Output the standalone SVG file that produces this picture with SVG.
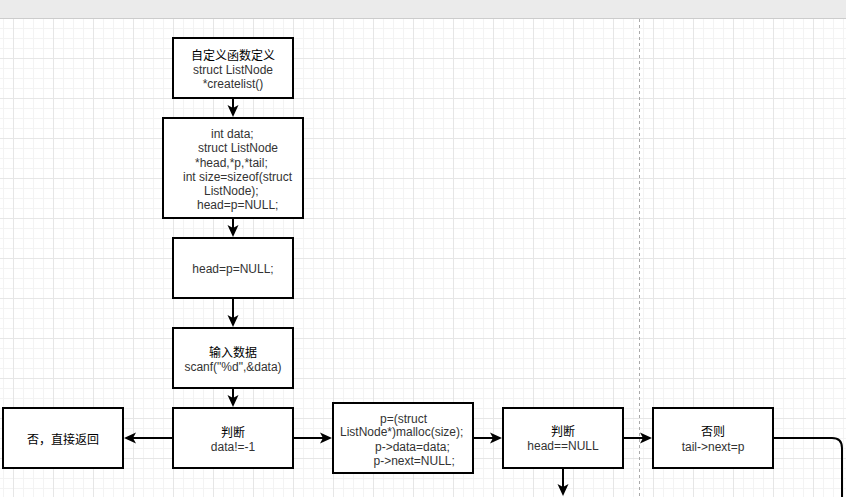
<svg xmlns="http://www.w3.org/2000/svg" width="846" height="497" viewBox="0 0 846 497">
<defs>
<pattern id="grid" patternUnits="userSpaceOnUse" x="13" y="18" width="40" height="40">
<rect width="40" height="40" fill="#ffffff"/>
<path d="M10.5 0V40M20.5 0V40M30.5 0V40M0 10.5H40M0 20.5H40M0 30.5H40" stroke="#f3f3f3" stroke-width="1"/>
<path d="M0.5 0V40M0 0.5H40" stroke="#e6e6e6" stroke-width="1"/>
</pattern>
<marker id="arr" markerUnits="userSpaceOnUse" viewBox="0 0 12 12" refX="3" refY="6" markerWidth="12" markerHeight="12" orient="auto">
<path d="M0,0.5 L12,6 L0,11.5 L3,6 Z" fill="#000"/>
</marker>
</defs>
<style>
.box{fill:#fff;stroke:#000;stroke-width:2}
.t{font-family:"Liberation Sans",Arial,sans-serif;font-size:12px;fill:#333}
.c{font-family:"Noto Sans CJK SC","Liberation Sans",sans-serif;font-size:12px;fill:#000}
.m{text-anchor:middle}
.conn{fill:none;stroke:#000;stroke-width:2}
</style>
<rect x="0" y="0" width="846" height="497" fill="url(#grid)"/>
<rect x="0" y="0" width="846" height="18" fill="#ebebeb"/>
<line x1="0" y1="18.5" x2="846" y2="18.5" stroke="#cccccc" stroke-width="1"/>
<line x1="639.5" y1="19" x2="639.5" y2="497" stroke="#aaaaaa" stroke-width="1" stroke-dasharray="3,3"/>

<g id="connectors">
<path class="conn" d="M233,99 V108" marker-end="url(#arr)"/>
<path class="conn" d="M233,219 V228" marker-end="url(#arr)"/>
<path class="conn" d="M233,299 V318" marker-end="url(#arr)"/>
<path class="conn" d="M233,389 V398" marker-end="url(#arr)"/>
<path class="conn" d="M172,438 H133" marker-end="url(#arr)"/>
<path class="conn" d="M294,438 H323" marker-end="url(#arr)"/>
<path class="conn" d="M474,438 H493" marker-end="url(#arr)"/>
<path class="conn" d="M624,438 H643" marker-end="url(#arr)"/>
<path class="conn" d="M563,469 V487" marker-end="url(#arr)"/>
<path class="conn" d="M774,438 H832 Q842,438 842,448 V500"/>
</g>

<g id="n1">
<rect class="box" x="173" y="38" width="120" height="60"/>
<text class="c m" x="233" y="59.5">自定义函数定义</text>
<text class="t m" x="233" y="73.5">struct ListNode</text>
<text class="t m" x="233" y="87.5">*createlist()</text>
</g>

<g id="n2">
<rect class="box" x="163" y="118" width="140" height="100"/>
<text class="t" x="211" y="138">int data;</text>
<text class="t" x="198" y="152.3">struct ListNode</text>
<text class="t" x="195" y="166.7">*head,*p,*tail;</text>
<text class="t" x="183" y="180.7">int size=sizeof(struct</text>
<text class="t" x="204" y="194.7">ListNode);</text>
<text class="t" x="197" y="209">head=p=NULL;</text>
</g>

<g id="n3">
<rect class="box" x="173" y="238" width="120" height="60"/>
<text class="t m" x="233" y="273.3">head=p=NULL;</text>
</g>

<g id="n4">
<rect class="box" x="173" y="328" width="120" height="60"/>
<text class="c m" x="233" y="356.5">输入数据</text>
<text class="t m" x="233" y="371">scanf("%d",&amp;data)</text>
</g>

<g id="n5">
<rect class="box" x="173" y="408" width="120" height="60"/>
<text class="c m" x="233" y="436.5">判断</text>
<text class="t m" x="233" y="451">data!=-1</text>
</g>

<g id="n6">
<rect class="box" x="3" y="408" width="120" height="60"/>
<text class="c m" x="63" y="443.5">否，直接返回</text>
</g>

<g id="n7">
<rect class="box" x="333" y="403" width="140" height="70"/>
<text class="t" x="380" y="422.5">p=(struct</text>
<text class="t" x="340" y="436">ListNode*)malloc(size);</text>
<text class="t" x="375" y="451">p-&gt;data=data;</text>
<text class="t" x="373.5" y="465">p-&gt;next=NULL;</text>
</g>

<g id="n8">
<rect class="box" x="503" y="408" width="120" height="60"/>
<text class="c m" x="563" y="435.5">判断</text>
<text class="t m" x="563" y="450">head==NULL</text>
</g>

<g id="n9">
<rect class="box" x="653" y="408" width="120" height="60"/>
<text class="c m" x="713" y="436">否则</text>
<text class="t m" x="713" y="451">tail-&gt;next=p</text>
</g>
</svg>
